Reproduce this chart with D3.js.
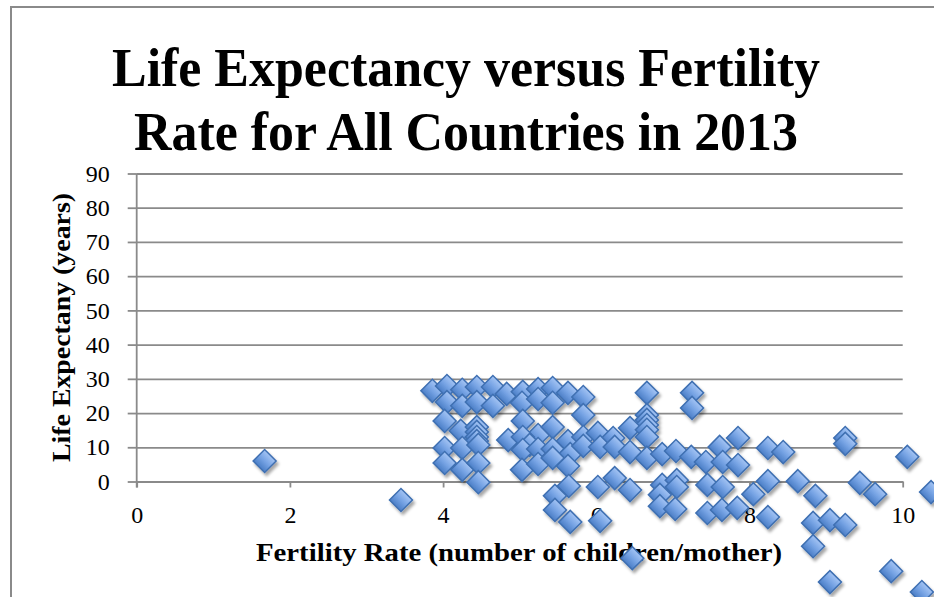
<!DOCTYPE html>
<html>
<head>
<meta charset="utf-8">
<script src="https://cdn.jsdelivr.net/npm/d3@7"></script>
<style>
  html, body { margin: 0; padding: 0; background: #ffffff; overflow: hidden; }
  text { font-family: "Liberation Serif", "DejaVu Serif", serif; fill: #000; }
</style>
</head>
<body>
<svg id="chart" width="934" height="597"></svg>
<script>
// Fertility rate (children per mother) for each country
const fertility = [
  1.67, 3.45, 3.86, 4.05, 4.25, 4.44, 4.65, 4.83, 5.04, 5.24, 5.43, 5.63, 5.83, 6.66, 7.25, 7.25,
  4.05, 4.25, 4.44, 4.65, 5.03, 5.24, 5.43, 5.83, 6.66, 6.66, 6.66,
  4.02, 4.23, 4.44, 4.44, 4.44, 4.44, 4.85, 5.04, 5.24, 5.43, 5.63, 5.83, 6.02, 6.22, 6.44, 6.66, 6.66, 5.04, 5.13,
  4.02, 4.25, 4.46, 5.04, 5.24, 5.43, 5.66, 5.83, 6.05, 6.24, 6.44, 6.66, 6.86, 7.04, 7.24, 7.43,
  7.61, 7.85, 7.65, 7.85, 8.24, 8.44, 9.25, 9.25, 10.06,
  4.02, 4.25, 4.46, 4.46, 5.03, 5.24, 5.43, 5.63, 5.64, 6.02, 6.24, 6.44, 6.86, 7.05, 7.05, 7.45,
  7.65, 8.05, 8.24, 8.63, 8.86, 9.44, 9.64, 10.37,
  5.46, 5.46, 5.66, 6.05, 6.47, 6.83, 6.83, 7.03, 7.45, 7.64, 7.84, 8.24, 8.83, 9.05, 9.25,
  8.83, 9.05, 9.85, 10.25
];

// Life expectancy (years) for the same countries, in the same order
const lifeExpectancy = [
  6.0, -5.4, 26.5, 27.9, 26.8, 27.6, 27.6, 25.6, 26.2, 27.0, 27.3, 25.9, 24.7, 25.9, 25.9, 21.5,
  23.2, 22.1, 23.2, 22.1, 23.0, 24.1, 23.0, 19.4, 19.4, 18.0, 16.5,
  17.7, 14.8, 15.9, 14.5, 13.0, 11.8, 12.1, 17.7, 13.6, 15.9, 11.8, 13.0, 14.2, 12.7, 15.6, 15.1, 13.0, 13.0, 10.7,
  9.8, 9.8, 10.7, 9.2, 9.5, 9.5, 8.0, 10.4, 10.1, 10.1, 8.6, 6.9, 8.0, 8.9, 7.2, 5.7,
  10.1, 12.7, 5.7, 4.8, 9.8, 8.6, 12.7, 11.0, 7.2,
  5.4, 3.4, 5.4, -0.2, 3.4, 5.1, 6.9, 4.5, -1.3, -1.6, 1.0, -2.5, -1.0, 0.4, -1.6, -1.0,
  -1.6, -3.7, 0.1, 0.1, -4.2, -0.4, -3.7, -3.1,
  -4.2, -8.3, -11.8, -11.5, -22.4, -3.9, -7.2, -8.0, -9.2, -8.3, -7.7, -10.4, -12.1, -11.3, -12.7,
  -18.9, -29.4, -26.2, -32.3
];

const xTickValues = [0, 2, 4, 6, 8, 10];
const yTickValues = [0, 10, 20, 30, 40, 50, 60, 70, 80, 90];
const titleLines = ["Life Expectancy versus Fertility", "Rate for All Countries in 2013"];
const xAxisTitle = "Fertility Rate (number of children/mother)";
const yAxisTitle = "Life Expectany (years)";

const svg = d3.select("#chart");
const W = 934, H = 597;
const plotLeft = 136.7, plotRight = 902.7, plotTop = 173.5, plotBottom = 481.5;
const gridColor = "#8a8a8a";

const x = d3.scaleLinear().domain([0, 10]).range([plotLeft, plotRight]);
const y = d3.scaleLinear().domain([0, 90]).range([plotBottom, plotTop]);

// Outer chart frame
svg.append("rect")
  .attr("x", 11).attr("y", 7)
  .attr("width", W + 40).attr("height", H + 40)
  .attr("fill", "#fff")
  .attr("stroke", gridColor).attr("stroke-width", 2);

// Marker styles
const defs = svg.append("defs");
const grad = defs.append("linearGradient")
  .attr("id", "markerFill").attr("x1", 0).attr("y1", 0).attr("x2", 0).attr("y2", 1);
grad.append("stop").attr("offset", "0%").attr("stop-color", "#a4c4f4");
grad.append("stop").attr("offset", "50%").attr("stop-color", "#76a3e4");
grad.append("stop").attr("offset", "100%").attr("stop-color", "#4b7ec6");
const shadow = defs.append("filter").attr("id", "markerShadow")
  .attr("x", "-50%").attr("y", "-50%").attr("width", "200%").attr("height", "200%");
shadow.append("feDropShadow")
  .attr("dx", 2).attr("dy", 3).attr("stdDeviation", 1.6)
  .attr("flood-color", "#000").attr("flood-opacity", 0.35);

// Title
svg.append("g").selectAll("text")
  .data(titleLines)
  .join("text")
  .attr("x", 466)
  .attr("y", (d, i) => 86 + i * 64)
  .attr("text-anchor", "middle")
  .attr("font-size", 54)
  .attr("font-weight", "bold")
  .attr("textLength", (d, i) => i === 0 ? 708 : 664)
  .attr("lengthAdjust", "spacingAndGlyphs")
  .text(d => d);

// Horizontal gridlines
const grid = svg.append("g")
  .attr("transform", `translate(${plotLeft},0)`)
  .call(d3.axisLeft(y).tickValues(yTickValues).tickSize(-(plotRight - plotLeft)).tickFormat(""));
grid.select(".domain").remove();
grid.selectAll("line").attr("stroke", gridColor).attr("stroke-width", 1.8);

// Y axis
const yAxis = svg.append("g")
  .attr("transform", `translate(${plotLeft},0)`)
  .call(d3.axisLeft(y).tickValues(yTickValues).tickSize(9).tickSizeOuter(0).tickPadding(18));
yAxis.select(".domain").attr("stroke", gridColor).attr("stroke-width", 1.8)
  .attr("d", `M0,${plotTop}V${plotBottom + 6}`);
yAxis.selectAll("line").attr("stroke", gridColor).attr("stroke-width", 1.8);
yAxis.selectAll("text")
  .attr("font-size", 24)
  .attr("font-family", "Liberation Serif")
  .attr("fill", "#000");

// X axis
const xAxis = svg.append("g")
  .attr("transform", `translate(0,${plotBottom})`)
  .call(d3.axisBottom(x).tickValues(xTickValues).tickSize(6).tickSizeOuter(0).tickPadding(18));
xAxis.select(".domain").attr("stroke", gridColor).attr("stroke-width", 1.8);
xAxis.selectAll("line").attr("stroke", gridColor).attr("stroke-width", 1.8);
xAxis.selectAll("text")
  .attr("font-size", 24)
  .attr("font-family", "Liberation Serif")
  .attr("fill", "#000");

// Axis titles
svg.append("text")
  .attr("x", 519).attr("y", 561)
  .attr("text-anchor", "middle")
  .attr("font-size", 25).attr("font-weight", "bold")
  .attr("textLength", 526).attr("lengthAdjust", "spacingAndGlyphs")
  .text(xAxisTitle);

svg.append("text")
  .attr("transform", "translate(70,327.5) rotate(-90)")
  .attr("text-anchor", "middle")
  .attr("font-size", 26).attr("font-weight", "bold")
  .attr("textLength", 269).attr("lengthAdjust", "spacingAndGlyphs")
  .text(yAxisTitle);

// Scatter markers (diamonds)
const points = fertility.map((f, i) => ({ f, le: lifeExpectancy[i] }));
const diamond = d3.symbol().type(d3.symbolSquare).size(265);
svg.append("g")
  .attr("filter", "url(#markerShadow)")
  .selectAll("path")
  .data(points)
  .join("path")
  .attr("d", diamond)
  .attr("transform", d => `translate(${x(d.f)},${y(d.le)}) rotate(45)`)
  .attr("fill", "url(#markerFill)")
  .attr("stroke", "#3f70b2")
  .attr("stroke-width", 1.5);
</script>
</body>
</html>
